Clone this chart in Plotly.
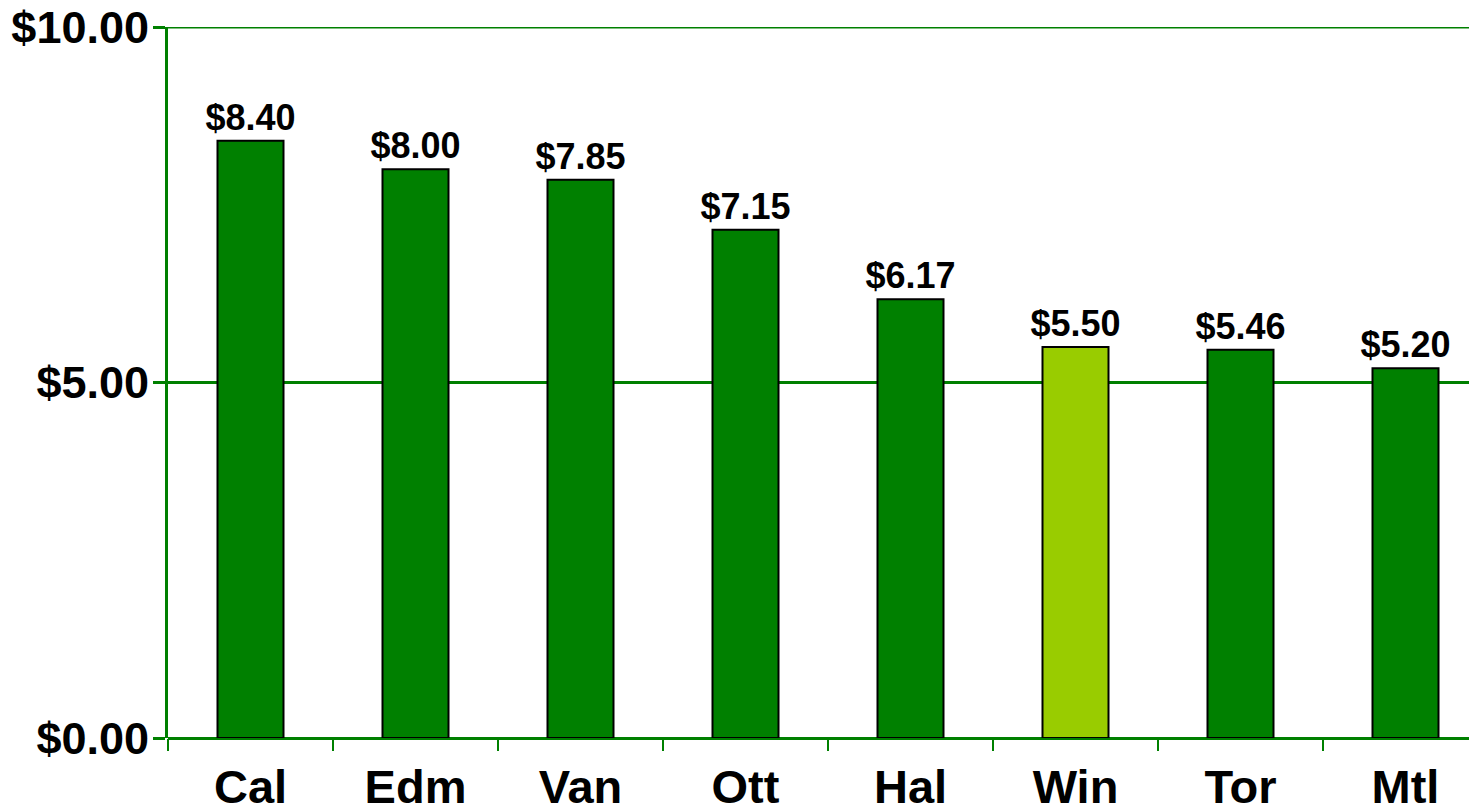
import plotly.graph_objects as go

cities = ["Cal", "Edm", "Van", "Ott", "Hal", "Win", "Tor", "Mtl"]
prices = [8.40, 8.00, 7.85, 7.15, 6.17, 5.50, 5.46, 5.20]
bar_colors = ["#008000", "#008000", "#008000", "#008000", "#008000", "#99CC00", "#008000", "#008000"]
y_tickvals = [0, 5, 10]
y_ticktext = ["$0.00", "$5.00", "$10.00"]
y_max = 10

FONT = "Liberation Sans, Arial, sans-serif"
GREEN = "#008000"

fig = go.Figure(
    go.Bar(
        x=cities,
        y=prices,
        width=0.4,
        marker=dict(color=bar_colors, line=dict(color="#000000", width=2)),
        text=[f"${v:.2f}" for v in prices],
        textposition="outside",
        constraintext="none",
        textfont=dict(family=FONT, size=36, color="#000000", weight="bold"),
        cliponaxis=False,
    )
)

# top gridline (Plotly drops gridlines lying on the plot edge)
fig.add_shape(
    type="line", xref="paper", yref="y", x0=0, x1=1, y0=y_max, y1=y_max,
    line=dict(color=GREEN, width=3), layer="below",
)

fig.update_layout(
    width=1469,
    height=802,
    margin=dict(l=160, r=0, t=19, b=72),
    paper_bgcolor="white",
    plot_bgcolor="white",
    showlegend=False,
    bargap=0.6,
    xaxis=dict(
        type="category",
        range=[-0.5, 7.5 - 11 / 165],
        automargin=False,
        showline=False,
        showgrid=False,
        ticks="outside",
        tickson="boundaries",
        ticklen=12,
        tickwidth=2,
        tickcolor=GREEN,
        ticklabelstandoff=17,
        tickfont=dict(family=FONT, size=47, color="#000000", weight="bold"),
    ),
    yaxis=dict(
        range=[0, y_max],
        automargin=False,
        tickvals=y_tickvals,
        ticktext=y_ticktext,
        showline=True,
        linecolor=GREEN,
        linewidth=3,
        showgrid=True,
        gridcolor=GREEN,
        gridwidth=3,
        zeroline=True,
        zerolinecolor=GREEN,
        zerolinewidth=3,
        ticks="outside",
        ticklen=12,
        tickwidth=3,
        tickcolor=GREEN,
        ticklabelstandoff=-5,
        ticklabeloverflow="allow",
        tickfont=dict(family=FONT, size=45, color="#000000", weight="bold"),
    ),
)

fig.write_html("out.html")
